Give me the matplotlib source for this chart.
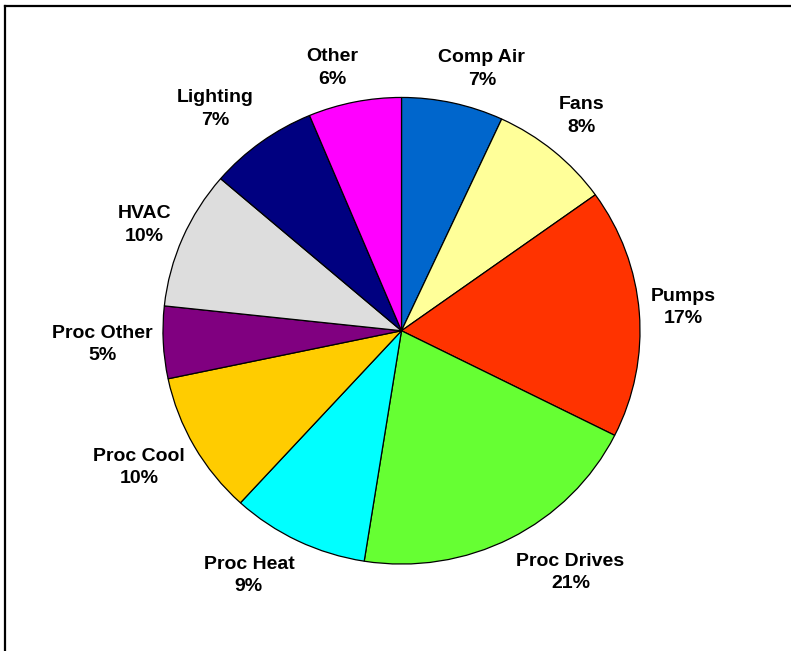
import numpy as np
import matplotlib.pyplot as plt
from matplotlib.lines import Line2D

# end-use shares (%), wedge sizes
labels = ['Comp Air', 'Fans', 'Pumps', 'Proc Drives', 'Proc Heat',
          'Proc Cool', 'Proc Other', 'HVAC', 'Lighting', 'Other']
shares = [6.9, 8.2, 17.3, 20.1, 9.3, 9.9, 5.0, 9.6, 7.4, 6.3]
# percentages as printed on the labels
pct_text = [7, 8, 17, 21, 9, 10, 5, 10, 7, 6]
colors = ['#0066CC', '#FFFF99', '#FF3300', '#66FF33', '#00FFFF',
          '#FFCC00', '#800080', '#DDDDDD', '#000080', '#FF00FF']

# label nudges (pixels) from the wedge's outer mid point
lab_off = [(29, 34), (28, 35), (44, 5), (60, -34), (-49, -35),
           (-55, -21), (-61, -2), (-38, 13), (-46, 33), (-22, 34)]

plt.rcParams['font.family'] = ['Liberation Sans', 'DejaVu Sans']

fig = plt.figure(figsize=(7.91, 6.51), dpi=100)
ax = fig.add_axes([0, 0, 1, 1])

wedges, _ = ax.pie(shares, colors=colors, startangle=90, counterclock=False,
                   wedgeprops=dict(edgecolor='black', linewidth=0.9))

for w, name, p, off in zip(wedges, labels, pct_text, lab_off):
    ang = np.deg2rad((w.theta1 + w.theta2) / 2)
    ax.annotate(f'{name}\n{p}%', xy=(np.cos(ang), np.sin(ang)),
                xytext=off, textcoords='offset pixels',
                ha='center', va='center', fontsize=14, fontweight='bold',
                linespacing=1.4)

# pie is slightly wider than tall in the original
ax.set_aspect('auto')
ax.set_xlim(-1.6834, 1.6331)
ax.set_ylim(-1.3727, 1.4177)
ax.axis('off')

# frame lines (top and left only)
fig.add_artist(Line2D([4.5 / 791, 4.5 / 791], [0, 1 - 6 / 651],
                      transform=fig.transFigure, color='black', lw=1.6))
fig.add_artist(Line2D([4.5 / 791, 1], [1 - 6 / 651, 1 - 6 / 651],
                      transform=fig.transFigure, color='black', lw=1.6))

plt.savefig('out.png', dpi=100)
